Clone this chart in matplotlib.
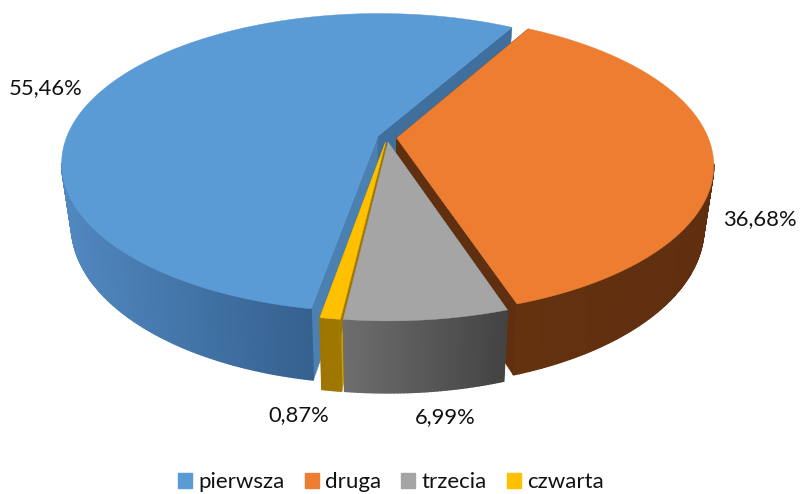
import numpy as np
import matplotlib
matplotlib.use('Agg')
import matplotlib.pyplot as plt
from matplotlib.patches import Polygon, Patch
from matplotlib.colors import to_rgb

plt.rcParams['font.family'] = ['Lato', 'DejaVu Sans']

categories = ['pierwsza', 'druga', 'trzecia', 'czwarta']
values = [55.46, 36.68, 6.99, 0.87]
colors = ['#5B9BD5', '#ED7D31', '#A5A5A5', '#FFC000']
# wall shade at the left and right end of the part facing the viewer
wall_left = ['#5188C0', '#63320F', '#6E6E6E', '#9C7400']
wall_right = ['#35618F', '#5F2F10', '#434343', '#A07800']
cut_start = ['#4A80B2', '#5F2F10', '#6E6E6E', '#D0A000']
cut_end = ['#3F6F9C', '#5F2F10', '#6E6E6E', '#A07800']
label_pos = [(46, 88), (760, 219), (445, 417), (299, 415)]
draw_order = [0, 1, 3, 2]

first_angle = 189.9
explode = 0.031
X0, Y0, A, B, K = 387, 137.6, 311.5, 145, 0.179


def project(u, v):
    '''Top surface: unit disc to picture pixels, with perspective'''
    w = 1 - K * v
    return X0 + A * u / w, Y0 + B * v / w


def lower(x, y):
    '''Same point on the bottom surface of the pie'''
    return X0 + 0.97 * (x - X0), y + 60 + (y - 135) * 12 / 185


def mix(c1, c2, t):
    return tuple((1 - t) * a + t * b for a, b in zip(to_rgb(c1), to_rgb(c2)))


fig = plt.figure(figsize=(8, 4.94), dpi=100)
ax = fig.add_axes([0, 0, 1, 1])
ax.set_xlim(0, 800)
ax.set_ylim(494, 0)
ax.axis('off')

spans = [v / sum(values) * 360 for v in values]
starts = first_angle + np.cumsum([0] + spans[:-1])

for i in draw_order:
    span = spans[i]
    start = starts[i]
    mid = np.radians(start + span / 2)
    off_u, off_v = explode * np.sin(mid), -explode * np.cos(mid)
    ang = np.radians(np.linspace(start, start + span, max(int(span * 2), 6)))
    xs, ys = project(off_u + np.sin(ang), off_v - np.cos(ang))
    tip_x, tip_y = project(off_u, off_v)
    bx, by = lower(xs, ys)
    tip_bx, tip_by = lower(tip_x, tip_y)
    # cut faces
    ax.add_patch(Polygon([(tip_x, tip_y), (xs[0], ys[0]), (bx[0], by[0]), (tip_bx, tip_by)],
                         fc=cut_start[i], ec=cut_start[i], lw=0.4))
    ax.add_patch(Polygon([(tip_x, tip_y), (xs[-1], ys[-1]), (bx[-1], by[-1]), (tip_bx, tip_by)],
                         fc=cut_end[i], ec=cut_end[i], lw=0.4))
    # outer wall, front part only
    front = xs[ys > Y0]
    lo, hi = front.min(), front.max()
    for j in range(len(xs) - 1):
        if ys[j] <= Y0 + 25 or ys[j + 1] <= Y0 + 25:
            continue
        t = np.clip((xs[j] - lo) / (hi - lo), 0, 1)
        shade = mix(wall_left[i], wall_right[i], t)
        ax.add_patch(Polygon([(xs[j], ys[j]), (xs[j + 1], ys[j + 1]),
                              (bx[j + 1], by[j + 1]), (bx[j], by[j])],
                             fc=shade, ec=shade, lw=1))
    # top
    ax.add_patch(Polygon(np.column_stack([np.r_[tip_x, xs], np.r_[tip_y, ys]]),
                         fc=colors[i], ec=colors[i], lw=0.3))
    ax.text(label_pos[i][0], label_pos[i][1], f'{values[i]:.2f}%'.replace('.', ','),
            ha='center', va='center', fontsize=15.8, color='#111111')

handles = [Patch(fc=c, ec=c) for c in colors]
ax.legend(handles, categories, ncol=4, loc='lower center', bbox_to_anchor=(0.489, -0.037),
          frameon=False, fontsize=16, handlelength=0.62, handleheight=0.62,
          handletextpad=0.3, columnspacing=0.9, labelcolor='#111111')

fig.savefig('out.png', dpi=100)
